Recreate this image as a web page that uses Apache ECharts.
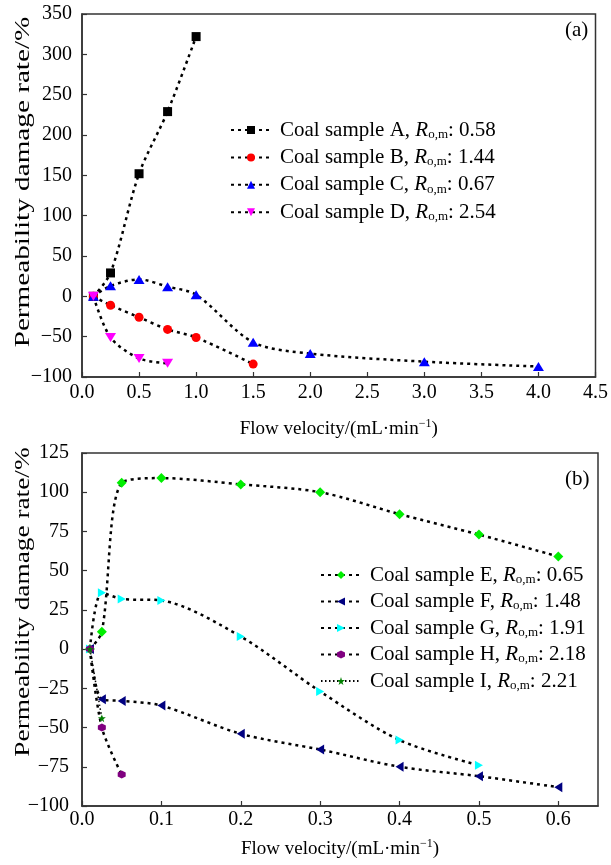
<!DOCTYPE html>
<html>
<head>
<meta charset="utf-8">
<script src="https://cdn.jsdelivr.net/npm/echarts@6/dist/echarts.min.js"></script>
<style>
  html, body { margin: 0; padding: 0; background: #fff; }
  #main { width: 611px; height: 865px; }
</style>
</head>
<body>
<div id="main"></div>
<script>
// panel (a) data
var xA = [0.1, 0.25, 0.5, 0.75, 1.0];
var yA = [0, 29, 152, 229, 322];
var xB = [0.1, 0.25, 0.5, 0.75, 1.0, 1.5];
var yB = [0, -11, -26, -41, -51, -84];
var xC = [0.1, 0.25, 0.5, 0.75, 1.0, 1.5, 2.0, 3.0, 4.0];
var yC = [0, 13, 21, 12, 2, -57, -71, -81, -87];
var xD = [0.1, 0.25, 0.5, 0.75];
var yD = [0, -51, -77, -83];

// panel (b) data
var xE = [0.01, 0.025, 0.05, 0.1, 0.2, 0.3, 0.4, 0.5, 0.6];
var yE = [0, 11, 106, 109, 105, 100, 86, 73, 59];
var xF = [0.01, 0.025, 0.05, 0.1, 0.2, 0.3, 0.4, 0.5, 0.6];
var yF = [0, -32, -33, -36, -54, -64, -75, -81, -88];
var xG = [0.01, 0.025, 0.05, 0.1, 0.2, 0.3, 0.4, 0.5];
var yG = [0, 36, 32, 31, 8, -27, -58, -74];
var xH = [0.01, 0.025, 0.05];
var yH = [0, -50, -80];
var xI = [0.01, 0.025];
var yI = [0, -44];

// legend labels
var samplesA = ['A', 'B', 'C', 'D'];
var romA = ['0.58', '1.44', '0.67', '2.54'];
var samplesB = ['E', 'F', 'G', 'H', 'I'];
var romB = ['0.65', '1.48', '1.91', '2.18', '2.21'];

var FONT = 'Liberation Serif';
var starPath = 'path://M50,0 L61,35 L98,35 L68,57 L79,91 L50,70 L21,91 L32,57 L2,35 L39,35 Z';
var hexPath = 'path://M50,0 L93,25 L93,75 L50,100 L7,75 L7,25 Z';

function pairs(xs, ys) {
  var out = [];
  for (var i = 0; i < xs.length; i++) out.push([xs[i], ys[i]]);
  return out;
}

var romLookup = {};
samplesA.forEach(function (s, i) { romLookup[s] = romA[i]; });
samplesB.forEach(function (s, i) { romLookup[s] = romB[i]; });

function legendText(name) {
  return '{g|}{t|Coal sample ' + name + ', }{i|R}{s|o,m}{t|: ' + romLookup[name] + '}';
}

var legendRich = {
  g: { width: 4, lineHeight: 22 },
  t: { fontFamily: FONT, fontSize: 21, lineHeight: 22, color: '#000' },
  i: { fontFamily: FONT, fontSize: 21, lineHeight: 22, fontStyle: 'italic', color: '#000' },
  s: { fontFamily: FONT, fontSize: 13, lineHeight: 13, color: '#000', padding: [9, 0, 0, 0] }
};

function mkSeries(name, xs, ys, idx, color, symbol, size, rotate, dash) {
  return {
    name: name,
    type: 'line',
    xAxisIndex: idx,
    yAxisIndex: idx,
    data: pairs(xs, ys),
    smooth: 0.3,
    symbol: symbol,
    symbolSize: size,
    symbolRotate: rotate || 0,
    itemStyle: { color: color },
    lineStyle: dash || { color: '#000', width: 2.5, type: [3, 4] },
    z: 3
  };
}

function minus(v) { return String(v).replace('-', '\u2212'); }

var tickStyle = { inside: true, length: 5, lineStyle: { color: '#333', width: 1.2 } };
var lblStyle = { fontFamily: FONT, fontSize: 20, color: '#000' };
var nameStyleX = {
  fontFamily: FONT, fontSize: 19, color: '#000',
  rich: { sup: { fontFamily: FONT, fontSize: 12, color: '#000', padding: [0, 0, 10, 0] } }
};
var axisLineStyle = { onZero: false, lineStyle: { color: '#333', width: 1.5 } };

var chart = echarts.init(document.getElementById('main'));
var option = {
  animation: false,
  backgroundColor: '#fff',
  grid: [
    { left: 82, top: 14, width: 516, height: 363, show: true, borderColor: '#333', borderWidth: 1.5 },
    { left: 82, top: 453, width: 516, height: 353, show: true, borderColor: '#333', borderWidth: 1.5 }
  ],
  xAxis: [
    {
      gridIndex: 0, type: 'value', min: 0, max: 4.5, interval: 0.5,
      name: 'Flow velocity/(mL\u00b7min{sup|\u22121})', nameLocation: 'middle', nameGap: 41,
      nameTextStyle: nameStyleX,
      axisLine: axisLineStyle,
      axisTick: tickStyle, splitLine: { show: false },
      axisLabel: Object.assign({ margin: 6, formatter: function (v) { return v.toFixed(1); } }, lblStyle)
    },
    {
      gridIndex: 1, type: 'value', min: 0, max: 0.65, interval: 0.1,
      name: 'Flow velocity/(mL\u00b7min{sup|\u22121})', nameLocation: 'middle', nameGap: 32,
      nameTextStyle: nameStyleX,
      axisLine: axisLineStyle,
      axisTick: tickStyle, splitLine: { show: false },
      axisLabel: Object.assign({ margin: 4, showMaxLabel: false, formatter: function (v) { return v.toFixed(1); } }, lblStyle)
    }
  ],
  yAxis: [
    {
      gridIndex: 0, type: 'value', min: -100, max: 350, interval: 50,
      axisLine: axisLineStyle,
      axisTick: tickStyle, splitLine: { show: false },
      axisLabel: Object.assign({ margin: 10, formatter: minus }, lblStyle)
    },
    {
      gridIndex: 1, type: 'value', min: -100, max: 125, interval: 25,
      axisLine: axisLineStyle,
      axisTick: tickStyle, splitLine: { show: false },
      axisLabel: Object.assign({ margin: 13, formatter: minus }, lblStyle)
    }
  ],
  legend: [
    {
      data: samplesA, orient: 'vertical', left: 225, top: 114,
      itemWidth: 40, itemHeight: 10, itemGap: 5.4,
      formatter: legendText, textStyle: { rich: legendRich }
    },
    {
      data: samplesB, orient: 'vertical', left: 315, top: 559,
      itemWidth: 40, itemHeight: 10, itemGap: 4.5,
      formatter: legendText, textStyle: { rich: legendRich }
    }
  ],
  graphic: [
    { type: 'text', left: 565, top: 20, style: { text: '(a)', fontFamily: FONT, fontSize: 21, fill: '#000' } },
    { type: 'text', left: 565, top: 469, style: { text: '(b)', fontFamily: FONT, fontSize: 21, fill: '#000' } },
    // y-axis titles, stretched along their length like the reference
    {
      type: 'text', x: 23, y: 182, rotation: Math.PI / 2, scaleX: 1.39,
      style: { text: 'Permeability damage rate/%', fontFamily: FONT, fontSize: 21, fill: '#000', align: 'center', verticalAlign: 'middle' }
    },
    {
      type: 'text', x: 23, y: 602, rotation: Math.PI / 2, scaleX: 1.3,
      style: { text: 'Permeability damage rate/%', fontFamily: FONT, fontSize: 21, fill: '#000', align: 'center', verticalAlign: 'middle' }
    }
  ],
  series: [
    mkSeries('A', xA, yA, 0, '#000000', 'rect', 9),
    mkSeries('B', xB, yB, 0, '#ff0000', 'circle', 9),
    mkSeries('C', xC, yC, 0, '#0000ff', 'triangle', [11, 9]),
    mkSeries('D', xD, yD, 0, '#ff00ff', 'triangle', [11, 9], 180),
    mkSeries('E', xE, yE, 1, '#00ee00', 'diamond', [10, 10]),
    mkSeries('F', xF, yF, 1, '#000080', 'triangle', [10, 8], 90),
    mkSeries('G', xG, yG, 1, '#00ffff', 'triangle', [9, 8], -90),
    mkSeries('H', xH, yH, 1, '#800080', hexPath, 8),
    mkSeries('I', xI, yI, 1, '#008000', starPath, 8, 0, { color: '#000', width: 1.5, type: [1.5, 2.5] })
  ]
};
chart.setOption(option);
window.addEventListener('resize', function () { chart.resize(); });
</script>
</body>
</html>
